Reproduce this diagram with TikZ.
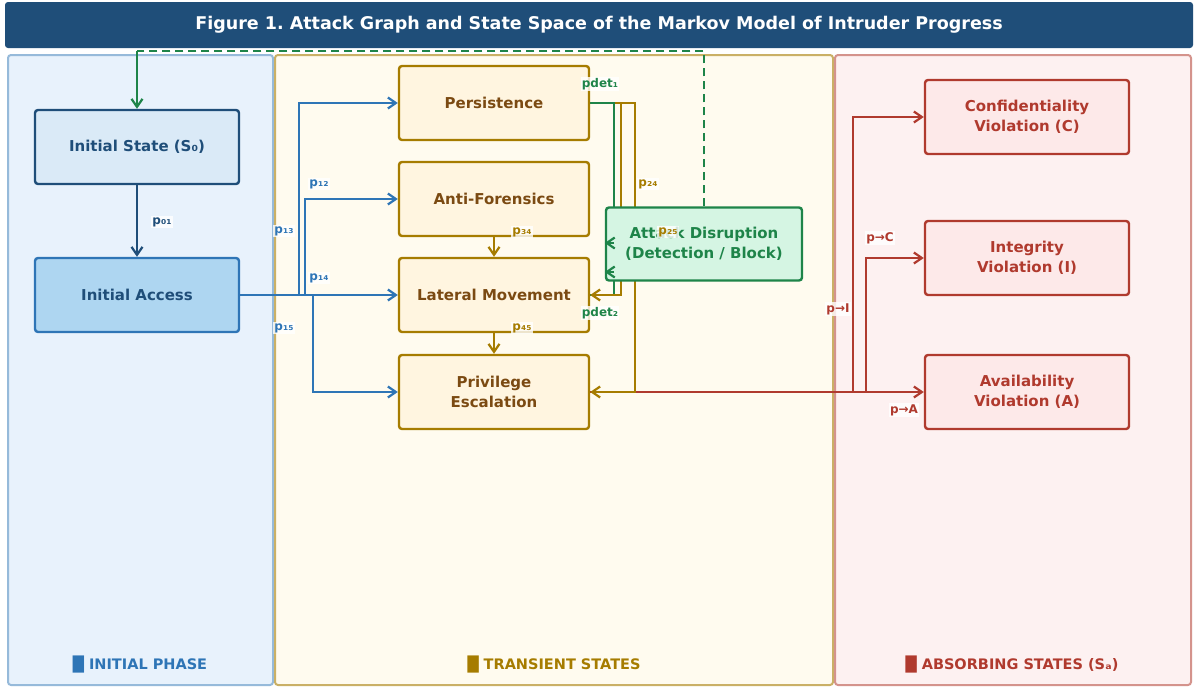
\documentclass[tikz,border=0pt]{standalone}
\usepackage{fontspec}
\setmainfont{DejaVu Sans}
\frenchspacing
\usetikzlibrary{arrows.meta}
\definecolor{titleblue}{HTML}{1F4E79}
\definecolor{midblue}{HTML}{2E75B6}
\definecolor{goldline}{HTML}{A67C00}
\definecolor{goldtext}{HTML}{7B4A12}
\definecolor{greenline}{HTML}{1E8449}
\definecolor{redline}{HTML}{B03A2E}
\definecolor{initfill}{HTML}{DAEAF7}
\definecolor{accessfill}{HTML}{AED6F1}
\definecolor{transfill}{HTML}{FFF5E0}
\definecolor{disrfill}{HTML}{D5F5E3}
\definecolor{absfill}{HTML}{FDE9E9}
\pgfdeclarelayer{panels}
\pgfdeclarelayer{edges}
\pgfdeclarelayer{tips}
\pgfsetlayers{panels,edges,main,tips}
\tikzset{
  % common look of the state boxes
  state box/.style={draw, line width=2.4pt, rounded corners=3pt,
    minimum width=204pt, minimum height=74pt, align=center,
    font=\bfseries\fontsize{15}{20}\selectfont},
  initial box/.style={state box, fill=initfill, draw=titleblue, text=titleblue},
  access box/.style={state box, fill=accessfill, draw=midblue, text=titleblue},
  transient box/.style={state box, minimum width=190pt, fill=transfill, draw=goldline, text=goldtext},
  disruption box/.style={state box, minimum width=196pt, minimum height=73pt,
    fill=disrfill, draw=greenline, text=greenline},
  absorbing box/.style={state box, fill=absfill, draw=redline, text=redline},
  % connectors and their labels
  edge/.style={line width=2.2pt, -{Straight Barb[length=8pt,width=11pt]}},
  plain edge/.style={line width=2.2pt},
  prob label/.style={font=\bfseries\fontsize{12}{14}\selectfont, fill=white,
    fill opacity=0.8, text opacity=1, inner sep=1pt},
  phase label/.style={font=\bfseries\fontsize{14.5}{17}\selectfont},
  panel/.style={line width=2pt, rounded corners=3pt},
}

\begin{document}
\begin{tikzpicture}[x=1pt,y=-1pt]
\useasboundingbox (0,0) rectangle (1196,688);
\begin{pgfonlayer}{panels}
\fill[white] (0,0) rectangle (1196,688);
\draw[panel, fill={rgb,255:red,232;green,242;blue,252}, draw=midblue!50] (8,55) rectangle (273,685);
\draw[panel, fill={rgb,255:red,255;green,251;blue,239}, draw=goldline!60] (275,55) rectangle (833,685);
\draw[panel, fill={rgb,255:red,253;green,241;blue,241}, draw=redline!55] (835,55) rectangle (1191,685);
\end{pgfonlayer}
\node[fill=titleblue, rounded corners=3pt, minimum width=1188pt, minimum height=46pt,
  text=white, font=\bfseries\fontsize{17.5}{20}\selectfont] (title) at (599,25)
  {Figure 1. Attack Graph and State Space of the Markov Model of Intruder Progress};

% states
\node[initial box] (init) at (137,147) {Initial State (S₀)};
\node[access box] (access) at (137,295) {Initial Access};
\node[transient box] (pers) at (494,103) {Persistence};
\node[transient box] (anti) at (494,199) {Anti-Forensics};
\node[transient box] (lat) at (494,295) {Lateral Movement};
\node[transient box] (priv) at (494,392) {Privilege\\Escalation};
\node[disruption box] (disr) at (704,244) {Attack Disruption\\(Detection / Block)};
\node[absorbing box] (conf) at (1027,117) {Confidentiality\\Violation (C)};
\node[absorbing box] (integ) at (1027,258) {Integrity\\Violation (I)};
\node[absorbing box] (avail) at (1027,392) {Availability\\Violation (A)};

\coordinate (fb) at (137,51);
\coordinate (det1) at (614,243);
\coordinate (det2) at (614,272);

\begin{pgfonlayer}{edges}
\draw[edge, draw=titleblue] (init.south) -- (access.north);
\draw[edge, draw=midblue] (access.east) -- ++(59,0) |- (pers.west);
\draw[edge, draw=midblue] (access.east) -- ++(65,0) |- (anti.west);
\draw[edge, draw=midblue] (access.east) -- (lat.west);
\draw[edge, draw=midblue] (access.east) -- ++(73,0) |- (priv.west);
\draw[edge, draw=goldline] (anti.south) -- (lat.north);
\draw[edge, draw=goldline] (lat.south) -- (priv.north);
\draw[edge, draw=redline] (priv.east) -- (avail.west);
\draw[edge, draw=redline] (priv.east) -- ++(263,0) |- (conf.west);
\draw[edge, draw=redline] (priv.east) -- ++(276,0) |- (integ.west);
\draw[plain edge, draw=greenline] (lat.east) -| (det2);
\draw[edge, draw=goldline] (pers.east) -- ++(45,0) |- (priv.east);
\draw[edge, draw=goldline] (pers.east) -- ++(31,0) |- (lat.east);
\draw[plain edge, draw=greenline] (pers.east) -| (det1);
% feedback to the start
\draw[plain edge, draw=greenline, dash pattern=on 8pt off 5pt] (disr.north) |- (fb);
\draw[edge, draw=greenline] (fb) -- (init.north);
\end{pgfonlayer}
\begin{pgfonlayer}{tips}
\draw[edge, draw=greenline] (det1) -- (det1 -| disr.west);
\draw[edge, draw=greenline] (det2) -- (det2 -| disr.west);
\end{pgfonlayer}

% probabilities
\node[prob label, text=titleblue] (l01) at (162,222) {p₀₁};
\node[prob label, text=midblue] (l12) at (319,184) {p₁₂};
\node[prob label, text=midblue] (l13) at (284,231) {p₁₃};
\node[prob label, text=midblue] (l14) at (319,278) {p₁₄};
\node[prob label, text=midblue] (l15) at (284,328) {p₁₅};
\node[prob label, text=goldline] (l34) at (522,232) {p₃₄};
\node[prob label, text=goldline] (l45) at (522,328) {p₄₅};
\node[prob label, text=goldline] (l24) at (648,184) {p₂₄};
\node[prob label, text=goldline] (l25) at (668,232) {p₂₅};
\node[prob label, text=greenline] (ld1) at (600,84) {pdet₁};
\node[prob label, text=greenline] (ld2) at (600,313) {pdet₂};
\node[prob label, text=redline] (lI) at (838,309) {p→I};
\node[prob label, text=redline] (lC) at (880,238) {p→C};
\node[prob label, text=redline] (lA) at (904,410) {p→A};

% phase names
\node[phase label, text=midblue] (ph1) at (140,665) {█ INITIAL PHASE};
\node[phase label, text=goldline] (ph2) at (554,665) {█ TRANSIENT STATES};
\node[phase label, text=redline] (ph3) at (1012,665) {█ ABSORBING STATES (Sₐ)};
\end{tikzpicture}
\end{document}
